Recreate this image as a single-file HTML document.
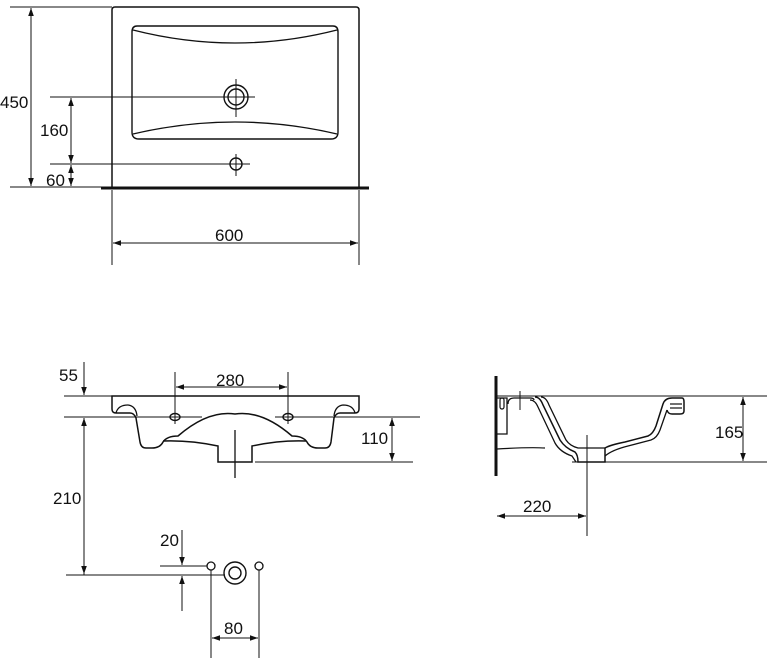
<!DOCTYPE html>
<html><head><meta charset="utf-8"><style>
html,body{margin:0;padding:0;background:#fff;}
svg{display:block;}
text{font-family:"Liberation Sans",Arial,sans-serif;font-size:17px;fill:#111;}
</style></head><body>
<svg width="767" height="664" viewBox="0 0 767 664" xmlns="http://www.w3.org/2000/svg">
<defs>
<marker id="a" viewBox="0 0 10 10" refX="10" refY="5" markerWidth="10" markerHeight="8" orient="auto-start-reverse" markerUnits="userSpaceOnUse"><path d="M0,1.5 L10,5 L0,8.5 z" fill="#111"/></marker>
</defs>
<g stroke="#111" fill="none" stroke-width="1">
<!-- TOP VIEW -->
<path d="M112,187 V10 Q112,7 115,7 H356 Q359,7 359,10 V187" stroke-width="1.5"/>
<path d="M137,26 H333 Q338,26 338,32 V132 Q338,139 331,139 H139 Q132,139 132,132 V32 Q132,26 137,26 Z" stroke-width="1.4"/>
<path d="M133,30 Q235,56 337,30" stroke-width="1.3"/>
<path d="M133,134 Q235,110 337,134" stroke-width="1.3"/>
<circle cx="236" cy="97" r="12" stroke-width="1.4"/>
<circle cx="236" cy="97" r="8" stroke-width="1.4"/>
<line x1="236" y1="79" x2="236" y2="117"/>
<line x1="50" y1="97" x2="255" y2="97"/>
<circle cx="236" cy="164" r="6" stroke-width="1.4"/>
<line x1="236" y1="154" x2="236" y2="176"/>
<line x1="50" y1="164" x2="250" y2="164"/>
<line x1="101" y1="188" x2="369" y2="188" stroke-width="3"/>
<line x1="10" y1="7" x2="112" y2="7"/>
<line x1="10" y1="187" x2="101" y2="187"/>
<line x1="31" y1="8" x2="31" y2="186" marker-start="url(#a)" marker-end="url(#a)"/>
<line x1="71" y1="98" x2="71" y2="163" marker-start="url(#a)" marker-end="url(#a)"/>
<line x1="71" y1="165" x2="71" y2="186" marker-start="url(#a)" marker-end="url(#a)"/>
<line x1="112" y1="190" x2="112" y2="265"/>
<line x1="359" y1="190" x2="359" y2="265"/>
<line x1="113" y1="243" x2="358" y2="243" marker-start="url(#a)" marker-end="url(#a)"/>

<!-- FRONT VIEW -->
<path d="M112,396 H359 V409 Q359,413 355,413 H340 Q336,413 334,418 L331,442 Q330,448 325,448 H318 Q310,448 307,442 Q303,436 292,436 Q262,410 235,414 Q208,410 178,436 Q167,436 163,442 Q160,448 152,448 H146 Q141,448 140,442 L136,418 Q134,413 130,413 H116 Q112,413 112,409 Z" stroke-width="1.5"/>
<path d="M116,413 Q118,405 128,405 Q136,406 137,416" stroke-width="1.3"/>
<path d="M355,413 Q353,405 343,405 Q335,406 334,416" stroke-width="1.3"/>
<path d="M163,441 Q190,440 218,446 V462 H252 V446 Q280,440 306,441" stroke-width="1.5"/>
<ellipse cx="175" cy="417" rx="5" ry="3.5" stroke-width="1.4"/>
<ellipse cx="288" cy="417" rx="5" ry="3.5" stroke-width="1.4"/>
<line x1="64" y1="396" x2="112" y2="396"/>
<line x1="64" y1="417" x2="202" y2="417"/>
<line x1="275" y1="417" x2="420" y2="417"/>
<line x1="175" y1="372" x2="175" y2="424"/>
<line x1="288" y1="372" x2="288" y2="424"/>
<line x1="176" y1="387" x2="287" y2="387" marker-start="url(#a)" marker-end="url(#a)"/>
<line x1="84" y1="362" x2="84" y2="395" marker-end="url(#a)"/>
<line x1="84" y1="575" x2="84" y2="418" marker-end="url(#a)"/>
<line x1="84" y1="440" x2="84" y2="574" marker-end="url(#a)"/>
<line x1="235" y1="430" x2="235" y2="478" stroke-width="1.3"/>
<line x1="255" y1="462" x2="413" y2="462"/>
<line x1="392" y1="418" x2="392" y2="461" marker-start="url(#a)" marker-end="url(#a)"/>

<!-- BOTTOM DETAIL -->
<line x1="66" y1="575" x2="225" y2="575"/>
<line x1="160" y1="566" x2="207" y2="566"/>
<line x1="182" y1="530" x2="182" y2="565" marker-end="url(#a)"/>
<line x1="182" y1="611" x2="182" y2="576" marker-end="url(#a)"/>
<circle cx="211" cy="566" r="4" stroke-width="1.3"/>
<circle cx="259" cy="566" r="4" stroke-width="1.3"/>
<circle cx="235" cy="573" r="11" stroke-width="1.4"/>
<circle cx="235" cy="573" r="6" stroke-width="1.4"/>
<line x1="211" y1="570" x2="211" y2="658"/>
<line x1="259" y1="570" x2="259" y2="658"/>
<line x1="212" y1="638" x2="258" y2="638" marker-start="url(#a)" marker-end="url(#a)"/>

<!-- SIDE VIEW -->
<line x1="496" y1="376" x2="496" y2="476" stroke-width="3"/>
<line x1="496" y1="396" x2="767" y2="396"/>
<line x1="572" y1="462" x2="767" y2="462"/>
<path d="M497,398 H507 V434 H497" stroke-width="1.3"/>
<rect x="500" y="398" width="4" height="11" rx="2" stroke-width="1.2"/>
<path d="M508,404 Q508,398 514,398 H530 Q534,398 534,400" stroke-width="1.3"/>
<line x1="520" y1="391" x2="520" y2="410"/>
<path d="M497,449 Q530,447 545,448" stroke-width="1.2"/>
<path d="M535,397 Q540,397 543,405 L560,440 Q565,448 575,452 Q578,455 578,462 H605 V448 Q610,445 625,442 L648,436 Q653,434 656,426 L663,404 Q665,398 672,398 H682 Q684,398 684,402 V411 Q684,414 680,414 H672 Q668,414 667,410" stroke-width="1.5"/>
<path d="M541,397 Q546,397 549,405 L566,440 Q570,446 578,448 H605" stroke-width="1.3"/>
<path d="M530,400 Q535,400 538,407 L555,443 Q560,452 572,456 L576,462" stroke-width="1.3"/>
<path d="M605,456 Q612,450 628,446 L651,440 Q657,438 660,430 L667,410" stroke-width="1.3"/>
<line x1="670" y1="404" x2="682" y2="404" stroke-width="1.2"/>
<line x1="670" y1="408" x2="682" y2="408" stroke-width="1.2"/>
<line x1="587" y1="435" x2="587" y2="536"/>
<line x1="743" y1="397" x2="743" y2="461" marker-start="url(#a)" marker-end="url(#a)"/>
<line x1="497" y1="516" x2="586" y2="516" marker-start="url(#a)" marker-end="url(#a)"/>
</g>
<text x="0" y="108">450</text>
<text x="40" y="136">160</text>
<text x="46" y="186">60</text>
<text x="215" y="241">600</text>
<text x="59" y="381">55</text>
<text x="216" y="386">280</text>
<text x="361" y="444">110</text>
<text x="53" y="504">210</text>
<text x="160" y="546">20</text>
<text x="224" y="634">80</text>
<text x="715" y="438">165</text>
<text x="523" y="512">220</text>
</svg>
</body></html>
